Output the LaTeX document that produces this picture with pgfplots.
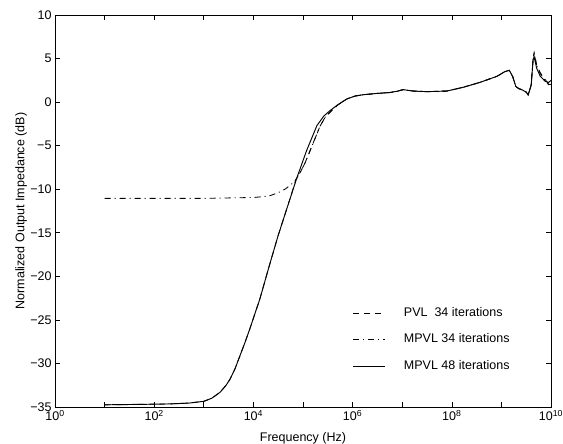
\documentclass[border=0pt]{standalone}
\usepackage{fontspec}
\setmainfont{Liberation Sans}
\usepackage{pgfplots}
\pgfplotsset{compat=1.18}

\begin{document}
\begin{tikzpicture}
\useasboundingbox (-55pt,-37pt) rectangle (508pt,407pt);
\begin{axis}[
  at={(0,0)}, anchor=south west,
  width=496pt, height=392pt, scale only axis,
  xmode=log, xmin=1, xmax=1e10, ymin=-35, ymax=10,
  xtick={1,1e1,1e2,1e3,1e4,1e5,1e6,1e7,1e8,1e9,1e10},
  xticklabels={10\textsuperscript{0},,10\textsuperscript{2},,10\textsuperscript{4},,10\textsuperscript{6},,10\textsuperscript{8},,10\textsuperscript{10}},
  xminorticks=false,
  ytick={-35,-30,-25,-20,-15,-10,-5,0,5,10},
  yticklabels={−35,−30,−25,−20,−15,−10,−5,0,5,10},
  tick align=inside, major tick length=5pt,
  axis line style={line width=0.8pt},
  tick style={line width=0.6pt, black},
  ticklabel style={font=\fontsize{12.5}{14}\selectfont},
  label style={font=\fontsize{12.5}{15}\selectfont},
  xlabel={Frequency (Hz)},
  ylabel={Normalized Output Impedance (dB)},
  xlabel style={at={(axis description cs:0.5,-0.079)}, anchor=center},
  ylabel style={at={(axis description cs:-0.0685,0.5)}, anchor=center},
  legend image code/.code={\draw[#1] (0pt,0pt) -- (32pt,0pt); \path (50pt,0pt);},
  legend cell align=left,
  legend style={draw=none, fill=none, inner sep=0pt, outer sep=0pt,
    at={(axis description cs:0.6008,0.172)}, anchor=west,
    font=\fontsize{12.5}{15}\selectfont, row sep=14.5pt,
    nodes={inner sep=0pt, text height=9pt, text depth=3pt}},
]
% PVL 34 iterations
\addplot[black, line width=0.85pt, dash pattern=on 6pt off 5pt] coordinates {
(1e1,-34.75) (5.01e1,-34.7) (2e2,-34.65) (5.01e2,-34.55) (1e3,-34.35)
(1.445e3,-34.0) (2.138e3,-33.3) (2.818e3,-32.5) (3.388e3,-31.8) (4.266e3,-30.6)
(5.37e3,-29.1) (6.761e3,-27.6) (8.511e3,-26.0) (1.072e4,-24.3) (1.349e4,-22.6)
(1.698e4,-20.6) (2.138e4,-18.6) (3.162e4,-15.3) (4.677e4,-12.3) (5.888e4,-10.55)
(7.079e4,-9.0) (8.913e4,-8.0) (1.096e5,-7.0) (1.318e5,-5.9) (1.549e5,-4.9)
(1.862e5,-3.8) (2.188e5,-2.8) (2.818e5,-1.7) (3.802e5,-0.95) (5.012e5,-0.35)
(6.31e5,0.05) (7.943e5,0.4) (1.122e6,0.7) (1.66e6,0.85) (3.162e6,1.0)
(5.623e6,1.1) (7.943e6,1.25) (1.047e7,1.43) (1.318e7,1.35) (1.66e7,1.27)
(3.162e7,1.2) (7.943e7,1.27) (1.698e8,1.7) (3.715e8,2.27) (8.128e8,2.96)
(1.175e9,3.5) (1.445e9,3.65) (1.698e9,2.9) (1.95e9,1.8) (2.239e9,1.55)
(2.57e9,1.43) (3.162e9,1.15) (3.467e9,0.8) (3.981e9,2.0) (4.365e9,5.1)
(4.571e9,5.7) (5.129e9,4.3) (6.026e9,3.4) (7.586e9,2.6) (8.913e9,2.1) (1e10,2.1)
};
\addlegendentry{PVL\ \ 34 iterations}
% MPVL 34 iterations
\addplot[black, line width=0.85pt, dash pattern=on 6pt off 4pt on 1pt off 4pt] coordinates {
(1e1,-11.05) (1e2,-11.05) (1e3,-11.05) (3.162e3,-11.0) (1e4,-10.95)
(1.585e4,-10.85) (2.138e4,-10.75) (2.818e4,-10.5) (3.467e4,-10.3) (4.467e4,-9.95)
(5.495e4,-9.55) (6.31e4,-9.25) (7.079e4,-8.95) (8.913e4,-8.0) (1.096e5,-7.0)
(1.318e5,-5.9) (1.549e5,-4.9) (1.862e5,-3.8) (2.188e5,-2.8) (2.818e5,-1.7)
(3.802e5,-0.95) (5.012e5,-0.35) (6.31e5,0.05) (7.943e5,0.4) (1.122e6,0.7)
(1.66e6,0.85) (3.162e6,1.0) (5.623e6,1.1) (7.943e6,1.25) (1.047e7,1.43)
(1.318e7,1.35) (1.66e7,1.27) (3.162e7,1.2) (7.943e7,1.27) (1.698e8,1.7)
(3.715e8,2.27) (8.128e8,2.96) (1.175e9,3.5) (1.445e9,3.65) (1.698e9,2.9)
(1.95e9,1.8) (2.239e9,1.55) (2.57e9,1.43) (3.162e9,1.15) (3.467e9,0.8)
(3.981e9,2.0) (4.365e9,5.0) (4.571e9,5.6) (5.129e9,4.2) (6.026e9,3.3)
(7.586e9,2.5) (8.913e9,2.0) (1e10,2.05)
};
\addlegendentry{MPVL 34 iterations}
% MPVL 48 iterations
\addplot[black, line width=0.95pt] coordinates {
(1e1,-34.75) (5.01e1,-34.7) (2e2,-34.65) (5.01e2,-34.55) (1e3,-34.35)
(1.445e3,-34.0) (2.138e3,-33.3) (2.818e3,-32.5) (3.388e3,-31.8) (4.266e3,-30.6)
(5.37e3,-29.1) (6.761e3,-27.6) (8.511e3,-26.0) (1.072e4,-24.3) (1.349e4,-22.6)
(1.698e4,-20.6) (2.138e4,-18.6) (3.162e4,-15.3) (4.677e4,-12.3) (7.413e4,-8.8)
(1.175e5,-5.6) (1.905e5,-2.7) (2.63e5,-1.6) (3.467e5,-1.0) (5.012e5,-0.3)
(7.586e5,0.35) (1.122e6,0.7) (1.66e6,0.85) (3.162e6,1.0) (5.623e6,1.1)
(7.943e6,1.25) (1.047e7,1.43) (1.318e7,1.35) (1.66e7,1.27) (3.162e7,1.2)
(7.943e7,1.27) (1.698e8,1.7) (3.715e8,2.27) (8.128e8,2.96) (1.175e9,3.5)
(1.445e9,3.65) (1.698e9,2.9) (1.95e9,1.8) (2.239e9,1.55) (2.57e9,1.43)
(3.162e9,1.15) (3.467e9,0.85) (3.981e9,1.9) (4.365e9,4.9) (4.571e9,5.2)
(5.129e9,3.9) (6.026e9,3.0) (7.586e9,2.4) (8.913e9,2.25) (1e10,2.5)
};
\addlegendentry{MPVL 48 iterations}
\end{axis}
\end{tikzpicture}
\end{document}
